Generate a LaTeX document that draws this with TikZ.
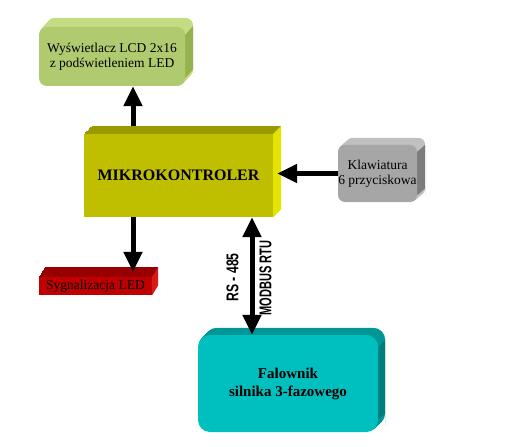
\documentclass[tikz,border=0pt]{standalone}
\usepackage{fontspec}
\setmainfont{Liberation Serif}
\newfontfamily\busfont{Liberation Sans}
\usepackage{tikz}
\usetikzlibrary{arrows.meta, positioning, calc, backgrounds}

% colours of the blocks (front, top, side)
\definecolor{lcdfront}{RGB}{176,202,112}
\definecolor{lcdtop}{RGB}{196,220,132}
\definecolor{lcdside}{RGB}{150,178,80}
\definecolor{mcufront}{RGB}{191,191,0}
\definecolor{mcutop}{RGB}{153,153,0}
\definecolor{mcuside}{RGB}{228,228,0}
\definecolor{keyfront}{RGB}{166,166,166}
\definecolor{keytop}{RGB}{192,192,192}
\definecolor{keyside}{RGB}{125,125,125}
\definecolor{ledfront}{RGB}{192,0,0}
\definecolor{ledtop}{RGB}{150,0,0}
\definecolor{ledside}{RGB}{215,25,25}
\definecolor{falfront}{RGB}{0,191,191}
\definecolor{faltop}{RGB}{0,150,150}
\definecolor{falside}{RGB}{0,125,125}

% 3D slab behind a node: node, top colour, side colour, dx, dy, corner radius
\newcommand{\slab}[6]{%
  \foreach \k in {1,...,10}
    \fill[#2, rounded corners=#6]
      ([shift={(\k*#4/10,\k*#5/10)}]#1.south west) rectangle ([shift={(\k*#4/10,\k*#5/10)}]#1.north east);
  \fill[#3] ([yshift=-#6]#1.north east) -- ++(#4,#5)
    -- ([shift={(#4,#5)}]#1.south east) -- ++(0,#6) -- ([yshift=#6]#1.south east) -- cycle;
}

\begin{document}
\begin{tikzpicture}[x=1pt, y=-1pt,
  block/.style={inner sep=0pt, align=center, text=black},
  buslabel/.style={rotate=90, inner sep=0pt, font=\busfont\fontsize{17}{17}\selectfont\bfseries},
  arr/.style={line width=5pt, -{Triangle[width=18pt,length=20pt]}},
  darr/.style={line width=5pt, {Triangle[width=18pt,length=20pt]}-{Triangle[width=18pt,length=20pt]}}]
  \useasboundingbox (0,0) rectangle (510,446);

  % Blocks (front faces)
  \node[block, fill=lcdfront, rounded corners=8pt, minimum width=146pt, minimum height=59pt,
        font=\fontsize{13.5}{15}\selectfont] (lcd) at (112,56.5)
        {Wyświetlacz LCD 2x16\\z podświetleniem LED};
  \node[block, fill=mcufront, minimum width=189pt, minimum height=83pt,
        font=\fontsize{16}{18}\selectfont\bfseries] (mcu) at (178.5,175.5) {MIKROKONTROLER};
  \node[block, fill=keyfront, rounded corners=7pt, minimum width=79pt, minimum height=57pt,
        font=\fontsize{13.5}{15}\selectfont] (klaw) at (377.5,173.5) {Klawiatura\\6 przyciskowa};
  \node[block, fill=ledfront, minimum width=113pt, minimum height=18pt,
        font=\fontsize{13.5}{15}\selectfont] (led) at (95.5,286) {Sygnalizacja LED};
  \node[block, fill=falfront, rounded corners=12pt, minimum width=180pt, minimum height=97pt,
        font=\fontsize{15}{18}\selectfont\bfseries] (fal) at (288,383.5)
        {Falownik\\silnika 3-fazowego};

  % Depth of the blocks
  \begin{scope}[on background layer]
    \slab{lcd}{lcdtop}{lcdside}{8pt}{9pt}{8pt}
    \slab{mcu}{mcutop}{mcuside}{8pt}{8pt}{0pt}
    \slab{klaw}{keytop}{keyside}{8pt}{7pt}{7pt}
    \slab{led}{ledtop}{ledside}{6pt}{10pt}{0pt}
    \slab{fal}{faltop}{falside}{7pt}{7pt}{12pt}
  \end{scope}

  % Connections
  \coordinate (upx) at (133,0);
  \coordinate (busx) at (252,0);
  \draw[arr] ([yshift=8pt]mcu.north -| upx) -- (lcd.south -| upx);
  \draw[arr] (mcu.south -| upx) -- ([yshift=5pt]led.north -| upx);
  \draw[arr] (klaw.west) -- ([xshift=4pt]mcu.east |- klaw.west);
  \draw[darr] (mcu.south -| busx) -- (fal.north -| busx);

  % Bus labels
  \node[buslabel] (rs) at (232.5,277.5) {\scalebox{0.72}[1]{RS - 485}};
  \node[buslabel] (modbus) at (265.5,278) {\scalebox{0.65}[1]{MODBUS RTU}};
\end{tikzpicture}
\end{document}
